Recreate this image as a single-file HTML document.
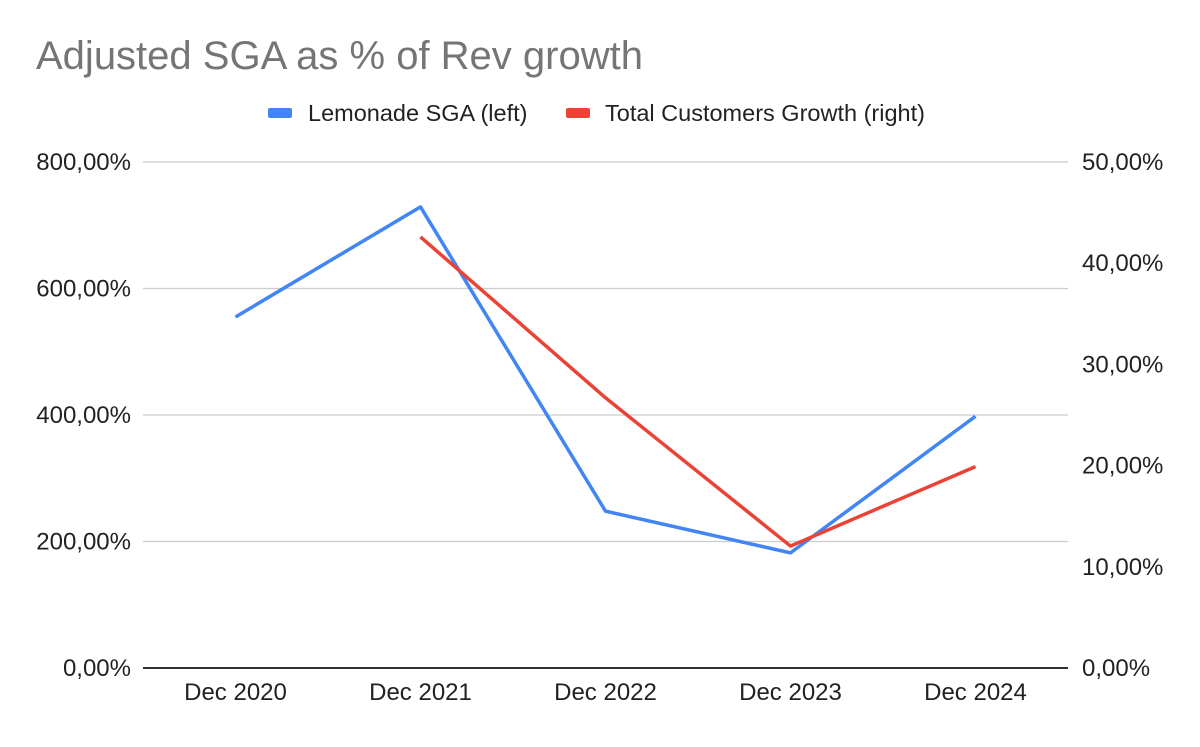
<!DOCTYPE html>
<html><head><meta charset="utf-8">
<style>
html,body{margin:0;padding:0;background:#fff;}
body{width:1200px;height:742px;overflow:hidden;font-family:"Liberation Sans",Arial,sans-serif;}
</style></head>
<body>
<svg id="chart" width="1200" height="742" viewBox="0 0 1200 742">
<text x="36" y="69" font-size="40" fill="#757575">Adjusted SGA as % of Rev growth</text>
<g>
<g>
<rect x="268" y="108" width="24" height="10" rx="2" fill="#4285f4"></rect>
<text x="308" y="121" font-size="23.5" fill="#222">Lemonade SGA (left)</text></g>
<g>
<rect x="566" y="108" width="24" height="10" rx="2" fill="#ea4335"></rect>
<text x="605" y="121" font-size="23.5" fill="#222">Total Customers Growth (right)</text></g>
</g>
<g id="grid"></g><g id="axes"></g><g id="series"></g>
</svg>
<script>
const categories=["Dec 2020","Dec 2021","Dec 2022","Dec 2023","Dec 2024"];
const sgaValues=[555,729,248,182,398];
const customerGrowth=[null,42.6,26.7,12.05,19.9];
const leftTicks=[0,200,400,600,800];
const leftTickLabels=["0,00%","200,00%","400,00%","600,00%","800,00%"];
const rightTicks=[0,10,20,30,40,50];
const rightTickLabels=["0,00%","10,00%","20,00%","30,00%","40,00%","50,00%"];

const NS="http://www.w3.org/2000/svg";
const L=143,R=1068,T=162,B=668;
const x=i=>L+(R-L)/categories.length*(i+0.5);
const yL=v=>B-(v/800)*(B-T);
const yR=v=>B-(v/50)*(B-T);
function mk(tag,attrs,parent){const e=document.createElementNS(NS,tag);for(const k in attrs)e.setAttribute(k,attrs[k]);parent.appendChild(e);return e;}
const grid=document.getElementById('grid'),axes=document.getElementById('axes'),series=document.getElementById('series');
leftTicks.forEach((t,i)=>{
  const ln=mk('line',{x1:L,x2:R,y1:yL(t),y2:yL(t),stroke:t===0?'#333':'#ccc','stroke-width':t===0?2:1.2},grid);
  
  
  const tx=mk('text',{x:131,y:yL(t)+8,'text-anchor':'end','font-size':24,fill:'#222'},axes);
  tx.textContent=leftTickLabels[i];
  
  
});
rightTicks.forEach((t,i)=>{
  const tx=mk('text',{x:1082,y:yR(t)+8,'font-size':24,fill:'#222'},axes);
  tx.textContent=rightTickLabels[i];
  
  
});
categories.forEach((c,i)=>{
  const tx=mk('text',{x:x(i),y:700,'text-anchor':'middle','font-size':24,fill:'#222'},axes);
  tx.textContent=c;
  
  
});
function path(vals,yf,color,name){
  let d='';vals.forEach((v,i)=>{if(v==null)return;d+=(d?'L':'M')+x(i)+','+yf(v);});
  const p=mk('path',{d:d,fill:'none',stroke:color,'stroke-width':3.5,'stroke-linejoin':'round'},series);
  
  
}
path(sgaValues,yL,'#4285f4','sga-line');
path(customerGrowth,yR,'#ea4335','customers-growth-line');
</script>
</body></html>
